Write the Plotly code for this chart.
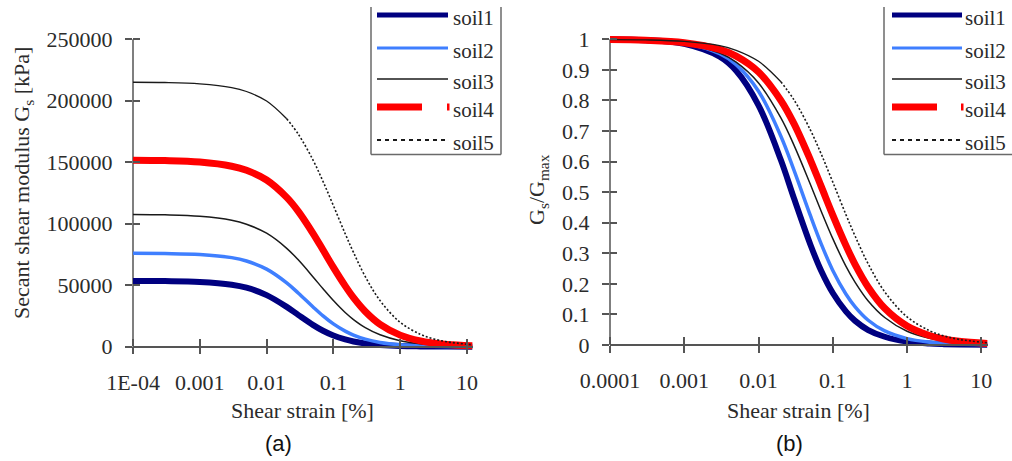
import plotly.graph_objects as go

W, H = 1012, 461

# ---------------- data ----------------
series_names = ["soil1", "soil2", "soil3", "soil4", "soil5"]
strain = [1e-4, 3e-4, 1e-3, 3e-3, 5e-3, 0.01, 0.02, 0.03, 0.05, 0.07,
          0.1, 0.15, 0.2, 0.3, 0.5, 1, 2, 3, 5, 12]

gmax = [53500, 76000, 107700, 151800, 215300]   # kPa, plateau of panel (a)

ratio_soil1 = [0.999, 0.997, 0.985, 0.943, 0.897, 0.784, 0.605, 0.480, 0.328, 0.242,
               0.170, 0.110, 0.079, 0.049, 0.027, 0.011, 0.0048, 0.0029, 0.0015, 0.0005]
ratio_soil2 = [0.999, 0.997, 0.987, 0.953, 0.917, 0.830, 0.683, 0.572, 0.423, 0.330,
               0.244, 0.167, 0.125, 0.081, 0.046, 0.021, 0.0093, 0.0058, 0.0032, 0.0011]
ratio_soil3 = [0.999, 0.996, 0.985, 0.955, 0.925, 0.857, 0.743, 0.654, 0.525, 0.437,
               0.348, 0.258, 0.205, 0.144, 0.090, 0.045, 0.022, 0.0148, 0.0087, 0.0035]
ratio_soil4 = [0.999, 0.997, 0.989, 0.967, 0.945, 0.893, 0.800, 0.724, 0.605, 0.518,
               0.425, 0.326, 0.263, 0.189, 0.120, 0.062, 0.031, 0.0204, 0.0120, 0.0048]
ratio_soil5 = [0.999, 0.998, 0.993, 0.979, 0.964, 0.928, 0.861, 0.802, 0.703, 0.624,
               0.533, 0.427, 0.356, 0.265, 0.174, 0.092, 0.047, 0.0311, 0.0185, 0.0074]
ratios = [ratio_soil1, ratio_soil2, ratio_soil3, ratio_soil4, ratio_soil5]

x_tickvals = [1e-4, 1e-3, 1e-2, 1e-1, 1, 10]
x_ticktext_a = ["1E-04", "0.001", "0.01", "0.1", "1", "10"]
x_ticktext_b = ["0.0001", "0.001", "0.01", "0.1", "1", "10"]
y_tickvals_a = [0, 50000, 100000, 150000, 200000, 250000]
y_ticktext_a = ["0", "50000", "100000", "150000", "200000", "250000"]
y_tickvals_b = [0, 0.1, 0.2, 0.3, 0.4, 0.5, 0.6, 0.7, 0.8, 0.9, 1.0]
y_ticktext_b = ["0", "0.1", "0.2", "0.3", "0.4", "0.5", "0.6", "0.7", "0.8", "0.9", "1"]

# ---------------- styles ----------------
styles = [
    dict(color="#000080", width=6, dash="solid"),
    dict(color="#3F7FFF", width=3.5, dash="solid"),
    dict(color="#1a1a1a", width=1.5, dash="solid"),
    dict(color="#FF0000", width=7, dash="solid"),
    dict(color="#1a1a1a", width=1.6, dash="2px,2px"),
]
# the dotted soil5 line looks solid on its flat part (dense points), dotted after this strain
DOT_SPLIT = 6   # index into strain (0.02)

SERIF = "Liberation Serif, Times New Roman, serif"
AX = "#555555"
TXT = "#2b2b2b"


def px(x):
    return x / W


def py(y):
    return 1 - y / H


fig = go.Figure()


def add_series(i, name, ys, xa, ya):
    st = styles[i]
    if st["dash"] != "solid":
        k = DOT_SPLIT
        fig.add_trace(go.Scatter(x=strain[:k + 1], y=ys[:k + 1], mode="lines", name=name,
                                 showlegend=False,
                                 line=dict(shape="spline", smoothing=1.0, color=st["color"],
                                           width=1.3, dash="solid"),
                                 xaxis=xa, yaxis=ya))
        fig.add_trace(go.Scatter(x=strain[k:], y=ys[k:], mode="lines", name=name,
                                 showlegend=False,
                                 line=dict(shape="spline", smoothing=1.0, **st),
                                 xaxis=xa, yaxis=ya))
    else:
        fig.add_trace(go.Scatter(x=strain, y=ys, mode="lines", name=name, showlegend=False,
                                 line=dict(shape="spline", smoothing=1.0, **st),
                                 xaxis=xa, yaxis=ya))


for i, name in enumerate(series_names):
    add_series(i, name, [gmax[i] * r for r in ratios[i]], "x", "y")
for i, name in enumerate(series_names):
    add_series(i, name, ratios[i], "x2", "y2")

# axis geometry (pixels)
ax_l, ax_r = 133, 473
bx_l, bx_r = 610, 988
a_y0, a_y250 = 346.7, 39.3
b_y0, b_y1 = 345.0, 39.3
a_scale = (a_y0 - a_y250) / 250000
b_scale = (b_y0 - b_y1) / 1.0
a_lo, a_hi = -3000, 252000
b_lo, b_hi = -0.012, 1.016

TICKFONT = dict(family=SERIF, size=22, color=TXT)
common_x = dict(type="log", range=[-4, 1.09], showgrid=False, zeroline=False, automargin=False,
                showline=True, linecolor=AX, linewidth=1.5,
                ticks="outside", ticklen=7, tickwidth=1.5, tickcolor=AX,
                tickmode="array", tickvals=x_tickvals,
                tickfont=TICKFONT, ticklabelstandoff=9,
                minor=dict(ticks="inside", ticklen=7, tickwidth=1.5, tickcolor=AX,
                           tickmode="array", tickvals=x_tickvals, showgrid=False))
common_y = dict(showgrid=False, zeroline=False, showline=False, automargin=False,
                ticks="outside", ticklen=7, tickwidth=1.5, tickcolor=AX,
                tickmode="array", tickfont=TICKFONT, ticklabelstandoff=8)

fig.update_layout(
    width=W, height=H, margin=dict(l=0, r=0, t=0, b=0, autoexpand=False),
    paper_bgcolor="white", plot_bgcolor="white", showlegend=False,
    xaxis=dict(domain=[px(ax_l), px(ax_r)], anchor="free", position=py(a_y0),
               ticktext=x_ticktext_a, **common_x),
    xaxis2=dict(domain=[px(bx_l), px(bx_r)], anchor="free", position=py(b_y0),
                ticktext=x_ticktext_b, **common_x),
    yaxis=dict(domain=[py(a_y0 + (0 - a_lo) * a_scale), py(a_y0 - a_hi * a_scale)],
               range=[a_lo, a_hi], anchor="x", tickvals=y_tickvals_a, ticktext=y_ticktext_a,
               minor=dict(ticks="inside", ticklen=7, tickwidth=1.5, tickcolor=AX,
                          tickmode="array", tickvals=y_tickvals_a, showgrid=False),
               **common_y),
    yaxis2=dict(domain=[py(b_y0 + (0 - b_lo) * b_scale), py(b_y0 - b_hi * b_scale)],
                range=[b_lo, b_hi], anchor="x2", tickvals=y_tickvals_b, ticktext=y_ticktext_b,
                minor=dict(ticks="inside", ticklen=7, tickwidth=1.5, tickcolor=AX,
                           tickmode="array", tickvals=y_tickvals_b, showgrid=False),
                **common_y),
)

shapes = []
# y axis lines
shapes.append(dict(type="line", xref="x domain", yref="y", x0=0, x1=0, y0=0, y1=250000,
                   line=dict(color=AX, width=1.5), layer="below"))
shapes.append(dict(type="line", xref="x2 domain", yref="y2", x0=0, x1=0, y0=0, y1=1,
                   line=dict(color=AX, width=1.5), layer="below"))


def pline(x0, y0, x1, y1, color, width, dash="solid"):
    shapes.append(dict(type="line", xref="paper", yref="paper",
                       x0=px(x0), x1=px(x1), y0=py(y0), y1=py(y1),
                       line=dict(color=color, width=width, dash=dash)))


annotations = []


def ptext(x, y, text, size=22, family=SERIF, xanchor="left", angle=0, color=TXT):
    annotations.append(dict(xref="paper", yref="paper", x=px(x), y=py(y), text=text,
                            showarrow=False, xanchor=xanchor, yanchor="middle",
                            textangle=angle, font=dict(family=family, size=size, color=color)))


# legends (drawn by hand to match the long sample lines)
BOX = "#6a6a6a"
legend_rows = [15, 48, 79, 107, 140]
sample_w = [5, 3, 1.5, 7, 2]
for (lx0, lx1, tx, box_l, box_r) in [(377, 448, 451, 371, 501), (892, 962, 963, 884, None)]:
    pline(box_l, 7, box_l, 154.5, BOX, 1.5)
    pline(box_l, 154.5, box_r if box_r else 1012, 154.5, BOX, 1.5)
    if box_r:
        pline(box_r, 7, box_r, 154.5, BOX, 1.5)
    for i, name in enumerate(series_names):
        yy = legend_rows[i]
        st = styles[i]
        if i == 3:
            pline(lx0, yy, lx0 + 45, yy, st["color"], sample_w[i])
            pline(lx1 - 1, yy, lx1 + 1.5, yy, st["color"], sample_w[i])
        elif i == 4:
            pline(lx0, yy, lx1, yy, st["color"], sample_w[i], "4px,4px")
        else:
            pline(lx0, yy, lx1, yy, st["color"], sample_w[i])
        ptext(tx, yy + 3, name, size=21)

# axis titles & captions
ptext(302, 410, "Shear strain [%]", xanchor="center")
ptext(798, 410, "Shear strain [%]", xanchor="center")
ptext(23, 183, "Secant shear modulus G<sub>s</sub> [kPa]", xanchor="center", angle=-90)
ptext(538, 190, "G<sub>s</sub>/G<sub>max</sub>", xanchor="center", angle=-90)
ptext(278, 443, "(a)", size=22, family="Liberation Sans, Arial, sans-serif", xanchor="center", color="#111")
ptext(789, 443, "(b)", size=22, family="Liberation Sans, Arial, sans-serif", xanchor="center", color="#111")

fig.update_layout(shapes=shapes, annotations=annotations)
fig.write_html("out.html")
